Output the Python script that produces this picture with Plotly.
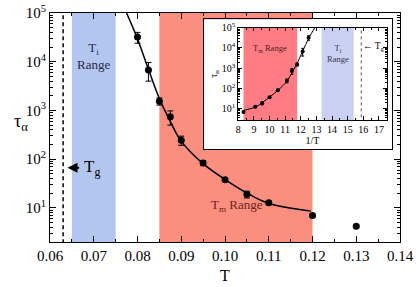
import math
import plotly.graph_objects as go

# ---- data ----
T_data = [0.08, 0.0825, 0.085, 0.0875, 0.09, 0.095, 0.10, 0.105, 0.11, 0.12, 0.13]
tau_data = [32000, 6800, 1550, 740, 245, 84, 38, 19, 12.8, 7.0, 4.2]
tau_err = [8000, 2800, 260, 240, 52, 10, 3, 3, 1.2, 0.5, 0.3]

fit_T = [0.0775, 0.0799, 0.0825, 0.0850, 0.0874, 0.0899, 0.0947, 0.0997, 0.1047, 0.1097, 0.1196]
fit_tau = [100000, 31000, 7000, 1750, 620, 240, 85, 40, 21, 12.6, 8.6]

Tg = 0.063
Ti_range = [0.065, 0.075]
Tm_range = [0.085, 0.12]

x_ticks = [0.06, 0.07, 0.08, 0.09, 0.10, 0.11, 0.12, 0.13, 0.14]
y_decades = [1, 2, 3, 4, 5]
inset_x_ticks = [8, 9, 10, 11, 12, 13, 14, 15, 16, 17]

FONT = "Liberation Serif, Times New Roman, serif"
main_blue = "#b3c6f0"
main_red = "#fa8e7f"
inset_red = "#ff7c84"
inset_blue = "#c9d0f2"

inv = lambda v: 1.0 / v
decade_vals = [10 ** d for d in y_decades]
decade_text = ["10<sup>%d</sup>" % d for d in y_decades]
minor_vals = [m * 10 ** d for d in range(0, 6) for m in range(2, 10)]

fig = go.Figure()


def band(x0, x1, color, xa, ya):
    return go.Scatter(x=[x0, x0, x1, x1, x0], y=[0.5, 1e7, 1e7, 0.5, 0.5], fill="toself",
                      fillcolor=color, line=dict(width=0), mode="lines",
                      xaxis=xa, yaxis=ya, showlegend=False, hoverinfo="skip")


# ---- main plot ----
fig.add_trace(band(Ti_range[0], Ti_range[1], main_blue, "x", "y"))
fig.add_trace(band(Tm_range[0], Tm_range[1], main_red, "x", "y"))
fig.add_trace(go.Scatter(x=[Tg, Tg], y=[0.5, 1e7], mode="lines",
                         line=dict(color="black", width=1.5, dash="4px,3px"),
                         xaxis="x", yaxis="y", showlegend=False, hoverinfo="skip"))
fig.add_trace(go.Scatter(x=fit_T, y=fit_tau, mode="lines", line=dict(color="black", width=1.5, shape="spline"),
                         xaxis="x", yaxis="y", showlegend=False))
fig.add_trace(go.Scatter(x=T_data, y=tau_data, mode="markers",
                         marker=dict(color="black", size=7),
                         error_y=dict(type="data", array=tau_err, color="black", thickness=1, width=3),
                         xaxis="x", yaxis="y", showlegend=False))

# ---- inset frame (empty subplot) ----
fig.add_trace(go.Scatter(x=[], y=[], xaxis="x2", yaxis="y2", showlegend=False))

# ---- inset ----
fig.add_trace(band(inv(Tm_range[1]), inv(Tm_range[0]), inset_red, "x3", "y3"))
fig.add_trace(band(inv(Ti_range[1]), inv(Ti_range[0]), inset_blue, "x3", "y3"))
fig.add_trace(go.Scatter(x=[inv(Tg), inv(Tg)], y=[0.5, 1e7], mode="lines",
                         line=dict(color="#555555", width=1, dash="dot"),
                         xaxis="x3", yaxis="y3", showlegend=False, hoverinfo="skip"))
fig.add_trace(go.Scatter(x=[inv(t) for t in fit_T], y=fit_tau, mode="lines",
                         line=dict(color="black", width=1, shape="spline"),
                         xaxis="x3", yaxis="y3", showlegend=False))
fig.add_trace(go.Scatter(x=[inv(t) for t in T_data], y=tau_data, mode="markers",
                         marker=dict(color="black", size=4),
                         error_y=dict(type="data", array=tau_err, color="black", thickness=1, width=1.5),
                         xaxis="x3", yaxis="y3", showlegend=False))

axis_common = dict(showline=True, linecolor="black", mirror="allticks", ticks="inside",
                   showgrid=False, zeroline=False, tickcolor="black", automargin=False)

fig.update_layout(
    width=416, height=287,
    margin=dict(l=50, r=16, t=13, b=45, autoexpand=False),
    paper_bgcolor="white", plot_bgcolor="white",
    hovermode=False,
    font=dict(family=FONT, color="black", size=15),
    xaxis=dict(domain=[0, 1], range=[0.06, 0.14], tickvals=x_ticks,
               ticktext=["%.2f" % v for v in x_ticks], ticklen=6, linewidth=1,
               minor=dict(dtick=0.005, tick0=0.06, ticklen=3, ticks="inside", tickcolor="black"),
               tickfont=dict(size=15, family=FONT), anchor="y",
               title=dict(text="T", font=dict(size=16, family=FONT), standoff=6),
               **axis_common),
    yaxis=dict(domain=[0, 1], type="log", range=[0.301, 5], tickvals=decade_vals,
               ticktext=decade_text, ticklen=6, linewidth=1,
               minor=dict(tickvals=minor_vals, ticklen=3, ticks="inside", tickcolor="black"),
               tickfont=dict(size=15, family=FONT), anchor="x", **axis_common),
    xaxis2=dict(domain=[0.44, 0.976], range=[0, 1], anchor="y2", showline=True, mirror=True,
                linecolor="black", linewidth=1.2, showticklabels=False, ticks="",
                showgrid=False, zeroline=False, fixedrange=True, automargin=False),
    yaxis2=dict(domain=[0.405, 0.972], range=[0, 1], anchor="x2", showline=True, mirror=True,
                linecolor="black", linewidth=1.2, showticklabels=False, ticks="",
                showgrid=False, zeroline=False, fixedrange=True, automargin=False),
    xaxis3=dict(domain=[0.538, 0.962], range=[8, 17.5], anchor="y3", tickvals=inset_x_ticks,
                ticklen=3.5, linewidth=1,
                minor=dict(dtick=0.5, tick0=8, ticklen=2, ticks="inside", tickcolor="black"),
                tickfont=dict(size=10, family=FONT),
                title=dict(text="1/T", font=dict(size=10, family=FONT), standoff=2),
                **axis_common),
    yaxis3=dict(domain=[0.533, 0.936], type="log", range=[0.46, 5], anchor="x3",
                tickvals=decade_vals, ticktext=decade_text, ticklen=3.5, linewidth=1,
                minor=dict(tickvals=minor_vals, ticklen=2, ticks="inside", tickcolor="black"),
                tickfont=dict(size=10, family=FONT),
                title=dict(text="τ<sub>α</sub>", font=dict(size=10, family=FONT), standoff=2),
                **axis_common),
)

tg_label_tau = 67  # height of the main-plot Tg label on the tau axis
annotations = [
    dict(text="τ<sub>α</sub>", x=-0.11, y=0.52, xref="paper", yref="paper",
         showarrow=False, font=dict(size=18)),
    dict(text="T<sub>i</sub><br>Range", x=sum(Ti_range) / 2, y=0.89, xref="x", yref="y domain",
         showarrow=False, font=dict(size=13, color="#2b2b45")),
    dict(text="T<sub>m</sub> Range", x=0.1028, y=0.113, xref="x", yref="y domain",
         showarrow=False, font=dict(size=13, color="#6b2418")),
    dict(text="T<sub>g</sub>", x=0.0672, y=math.log10(tg_label_tau), xref="x", yref="y",
         xanchor="left", showarrow=False, font=dict(size=17)),
    dict(text="", x=0.0640, y=math.log10(tg_label_tau), xref="x", yref="y",
         ax=0.0670, ay=math.log10(tg_label_tau), axref="x", ayref="y",
         showarrow=True, arrowhead=2, arrowsize=1, arrowwidth=2, arrowcolor="black"),
    dict(text="T<sub>m</sub> Range", x=sum(inv(t) for t in Tm_range) / 2, y=0.85,
         xref="x3", yref="y3 domain", showarrow=False, font=dict(size=8.5, color="#4a1c1c")),
    dict(text="T<sub>i</sub><br>Range", x=sum(inv(t) for t in Ti_range) / 2, y=0.85,
         xref="x3", yref="y3 domain", showarrow=False, font=dict(size=8.5, color="#3a3a4a")),
    dict(text="← T<sub>g</sub>", x=inv(Tg), y=0.88, xref="x3", yref="y3 domain",
         xanchor="left", showarrow=False, font=dict(size=9.5)),
]
fig.update_layout(annotations=annotations)

# remove the browser's default 8px body margin so the 416x287 figure fills the window
fig.write_html("out.html", config={"displayModeBar": False},
               post_script="document.body.style.margin='0';")
